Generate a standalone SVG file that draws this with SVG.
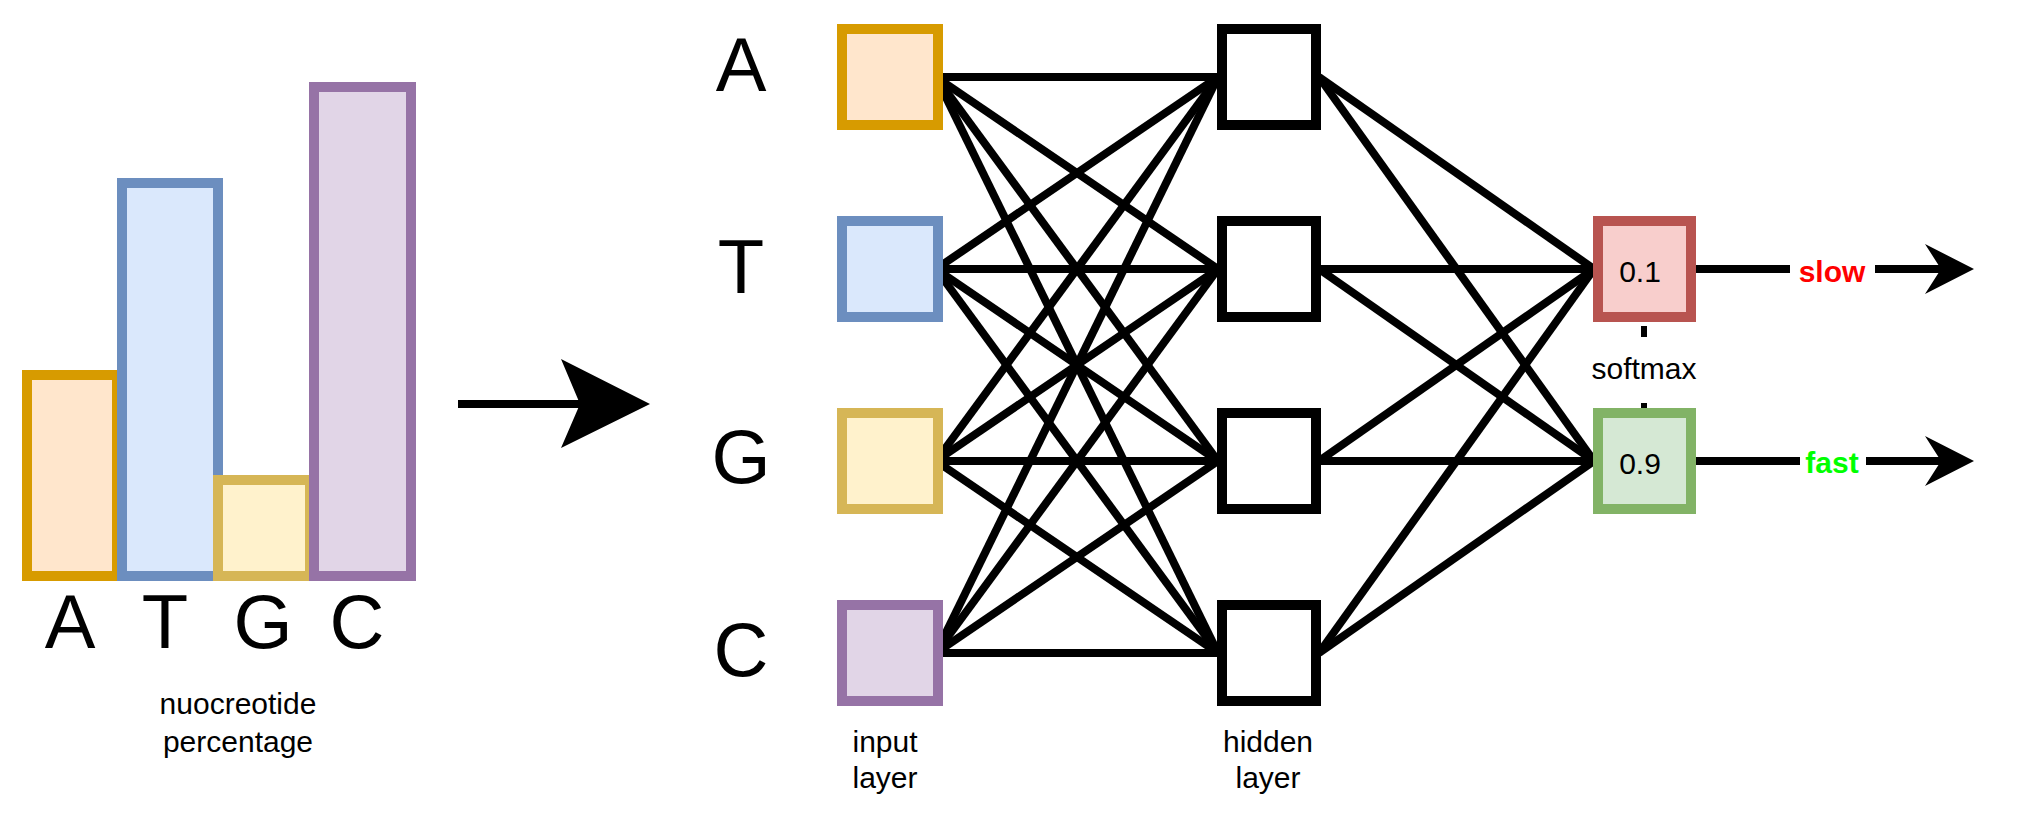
<svg xmlns="http://www.w3.org/2000/svg" width="2019" height="819" viewBox="0 0 2019 819">
<style>
text{font-family:"Liberation Sans",Arial,sans-serif;fill:#000;text-anchor:middle}
.big{font-size:76px}
.sm{font-size:30px}
.box{stroke-width:10}
.c line{stroke:#000;stroke-width:8}
.or{fill:#ffe6cc;stroke:#d79b00}.bl{fill:#dae8fc;stroke:#6c8ebf}.ye{fill:#fff2cc;stroke:#d6b656}.pu{fill:#e1d5e7;stroke:#9673a6}.re{fill:#f8cecc;stroke:#b85450}.gr{fill:#d5e8d4;stroke:#82b366}.wh{fill:#fff;stroke:#000}
</style>
<rect width="2019" height="819" fill="#fff"/>
<g id="chart">
<rect class="box or" x="27" y="375" width="90" height="201"/>
<rect class="box bl" x="122" y="183" width="96" height="393"/>
<rect class="box ye" x="218" y="480" width="92" height="96"/>
<rect class="box pu" x="314" y="87" width="97" height="489"/>
<text class="big" x="70" y="648">A</text><text class="big" x="165" y="648">T</text><text class="big" x="263" y="648">G</text><text class="big" x="357" y="648">C</text>
<text class="sm" x="238" y="714">nuocreotide</text><text class="sm" x="238" y="752">percentage</text>
</g>
<g id="bigarrow"><line x1="458" y1="404" x2="585" y2="404" stroke="#000" stroke-width="8"/><path d="M650 404 L561 359 L580 404 L561 448 Z" fill="#000"/></g>
<g id="connectors" class="c">
<line x1="936" y1="77" x2="1218" y2="77"/><line x1="936" y1="77" x2="1218" y2="269"/><line x1="936" y1="77" x2="1218" y2="461"/><line x1="936" y1="77" x2="1218" y2="653"/>
<line x1="936" y1="269" x2="1218" y2="77"/><line x1="936" y1="269" x2="1218" y2="269"/><line x1="936" y1="269" x2="1218" y2="461"/><line x1="936" y1="269" x2="1218" y2="653"/>
<line x1="936" y1="461" x2="1218" y2="77"/><line x1="936" y1="461" x2="1218" y2="269"/><line x1="936" y1="461" x2="1218" y2="461"/><line x1="936" y1="461" x2="1218" y2="653"/>
<line x1="936" y1="653" x2="1218" y2="77"/><line x1="936" y1="653" x2="1218" y2="269"/><line x1="936" y1="653" x2="1218" y2="461"/><line x1="936" y1="653" x2="1218" y2="653"/>
<line x1="1319" y1="77" x2="1594" y2="269"/><line x1="1319" y1="77" x2="1594" y2="461"/>
<line x1="1319" y1="269" x2="1594" y2="269"/><line x1="1319" y1="269" x2="1594" y2="461"/>
<line x1="1319" y1="461" x2="1594" y2="269"/><line x1="1319" y1="461" x2="1594" y2="461"/>
<line x1="1319" y1="653" x2="1594" y2="269"/><line x1="1319" y1="653" x2="1594" y2="461"/>
<line x1="1692" y1="269" x2="1945" y2="269"/><line x1="1692" y1="461" x2="1945" y2="461"/>
<path d="M1974 269 L1925 244 L1941 269 L1925 294 Z" fill="#000"/>
<path d="M1974 461 L1925 436 L1941 461 L1925 486 Z" fill="#000"/>
<rect x="1641" y="326" width="6" height="11" fill="#000"/><rect x="1641" y="403" width="6" height="11" fill="#000"/>
</g>
<g id="in-labels"><text class="big" x="741" y="91">A</text><text class="big" x="741" y="293">T</text><text class="big" x="741" y="483">G</text><text class="big" x="741" y="676">C</text></g>
<g id="in-A"><rect class="box or" x="842" y="29" width="96" height="96"/></g>
<g id="in-T"><rect class="box bl" x="842" y="221" width="96" height="96"/></g>
<g id="in-G"><rect class="box ye" x="842" y="413" width="96" height="96"/></g>
<g id="in-C"><rect class="box pu" x="842" y="605" width="96" height="96"/></g>
<text class="sm" x="885" y="752">input</text><text class="sm" x="885" y="788">layer</text>
<g id="h1"><rect class="box wh" x="1222" y="29" width="94" height="96"/></g>
<g id="h2"><rect class="box wh" x="1222" y="221" width="94" height="96"/></g>
<g id="h3"><rect class="box wh" x="1222" y="413" width="94" height="96"/></g>
<g id="h4"><rect class="box wh" x="1222" y="605" width="94" height="96"/></g>
<text class="sm" x="1268" y="752">hidden</text><text class="sm" x="1268" y="788">layer</text>
<g id="out-slow"><rect class="box re" x="1598" y="221" width="93" height="96"/><text class="sm" x="1640" y="282">0.1</text></g>
<g id="out-fast"><rect class="box gr" x="1598" y="413" width="93" height="96"/><text class="sm" x="1640" y="474">0.9</text></g>
<text class="sm" x="1644" y="379">softmax</text>
<rect x="1790" y="255" width="85" height="30" fill="#fff"/><text x="1832" y="282" style="font-size:30px;font-weight:bold;fill:#ff0000">slow</text>
<rect x="1800" y="447" width="66" height="30" fill="#fff"/><text x="1832" y="473" style="font-size:30px;font-weight:bold;fill:#00ff00">fast</text>
</svg>
